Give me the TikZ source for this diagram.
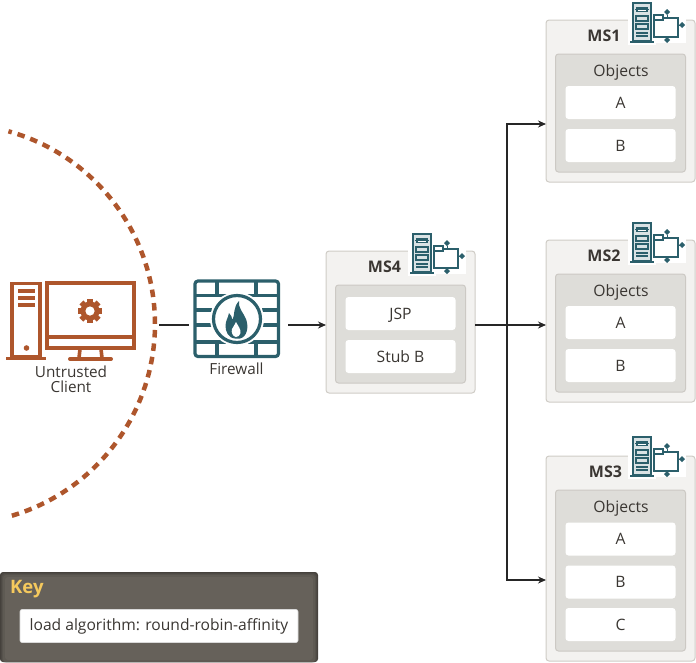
\documentclass[tikz,border=0pt]{standalone}
\usepackage{fontspec}
\setmainfont{Open Sans}
\usetikzlibrary{arrows.meta}
\definecolor{teal}{HTML}{2B5F6B}
\definecolor{rust}{HTML}{AE562C}
\definecolor{outerbox}{HTML}{F3F2F0}
\definecolor{outeredge}{HTML}{CFCCC6}
\definecolor{innerbox}{HTML}{DEDDD9}
\definecolor{inneredge}{HTML}{CCC9C4}
\definecolor{ink}{HTML}{3A3632}
\definecolor{keyA}{HTML}{45413C}
\definecolor{keyB}{HTML}{4D4944}
\definecolor{keyC}{HTML}{56524C}
\definecolor{keyD}{HTML}{5E5A53}
\definecolor{keyE}{HTML}{66615A}
\definecolor{keygold}{HTML}{F5C95D}
\tikzset{
  msbox/.style={draw=outeredge,fill=outerbox,line width=1pt,rounded corners=3pt,minimum width=149pt,inner sep=0pt,outer sep=0pt},
  grpbox/.style={draw=inneredge,fill=innerbox,line width=1pt,rounded corners=3pt,minimum width=130pt,inner sep=0pt,outer sep=0pt},
  itembox/.style={fill=white,rounded corners=3pt,minimum width=110pt,minimum height=33pt,inner sep=0pt,outer sep=0pt,text=ink,text depth=0pt,font=\fontsize{15.7}{17}\selectfont},
  mstitle/.style={inner sep=0pt,text=ink,font=\fontsize{16}{18}\selectfont\bfseries},
  grptitle/.style={inner sep=0pt,text=ink,font=\fontsize{15.7}{17}\selectfont},
  lbl/.style={inner sep=0pt,text=ink,align=center,font=\fontsize{15.3}{16}\selectfont},
  conn/.style={draw=black!85,line width=1.05pt},
  arr/.style={conn,-{Stealth[length=8pt,width=7pt]}},
  iconline/.style={draw=teal,line width=1.7pt},
  rustline/.style={draw=rust,line width=4pt},
  wall/.style={draw=teal,line width=3.2pt},
}
\newcommand{\msicon}[2]{%
  \begin{scope}[shift={(#1,#2)}]
    \fill[white] (-2,-1) rectangle (26,43);
    \fill[white] (22,5) rectangle (56,41);
    \fill[teal!18] (3,1) rectangle (21,39);
    \draw[iconline] (3,1) rectangle (21,39);
    \draw[iconline,line width=2.2pt] (0,40) -- (24,40);
    \fill[teal] (6,5) rectangle (18,10);
    \fill[white] (8,6.5) rectangle (16,8.5);
    \draw[iconline,line width=1pt] (5,7.5) -- (19,7.5);
    \draw[iconline,line width=1.3pt] (6,14) rectangle (18,19);
    \draw[iconline,line width=1.3pt] (6,22) rectangle (18,27);
    \draw[iconline,line width=1.1pt] (6,31) -- (18,31) (6,34) -- (18,34);
    \draw[iconline,fill=white] (24,16) rectangle (48,35);
    \draw[iconline,fill=white,line width=1.3pt] (24,13) rectangle (33,18);
    \fill[teal] (37,7) -- (40,10) -- (37,13) -- (34,10) -- cycle;
    \fill[teal] (52,20) -- (55,23) -- (52,26) -- (49,23) -- cycle;
    \fill[teal] (37,35) -- (40,38) -- (37,41) -- (34,38) -- cycle;
    \draw[teal,line width=1pt] (37,13) -- (37,16) (48,23) -- (50,23) (37,35) -- (37,36);
  \end{scope}}
\begin{document}
\begin{tikzpicture}[x=1pt,y=-1pt]
\useasboundingbox (0,0) rectangle (696,662);

% dashed boundary
\draw[draw=rust,line width=4.5pt,dash pattern=on 7.5pt off 6pt,dash phase=4pt]
  plot[domain=-74.5:74.5,samples=80] ({-45+200*cos(\x)},{324+200*sin(\x)});

% client computer
\draw[rustline,line width=3.6pt] (12,283.5) -- (40,283.5) -- (40,357) -- (12,357) -- cycle;
\draw[rustline,line width=3.6pt] (6,358.5) -- (46,358.5);
\foreach \yy in {291,298,305} \fill[rust] (18,\yy-2) rectangle (35,\yy+2);
\fill[rust] (26.5,348) circle (2.8);
\draw[rustline] (47,283) rectangle (133.5,347.5);
\draw[rustline,line width=4pt] (47,337) -- (133.5,337);
\draw[rust,line width=3.6pt] (80,349) -- (79,358) (101,349) -- (102,358);
\draw[rust,line width=4pt,line cap=round] (70,359) -- (111,359);
\foreach \a in {0,45,...,315} \fill[rust,rotate around={\a:(90,311)}] (87.2,298.8) rectangle (92.8,306);
\fill[rust] (90,311) circle (9.5);
\fill[white] (90,311) circle (4.6);
\node[lbl] (client) at (71,379.5) {Untrusted\\[-1.5pt]Client};

% firewall
\draw[wall,rounded corners=3pt] (195,281) rectangle (278.5,356.5);
\draw[wall] (195,295.5) -- (278.5,295.5) (195,342) -- (278.5,342);
\draw[wall] (217,281) -- (217,295.5) (256,281) -- (256,295.5) (217,342) -- (217,356.5) (256,342) -- (256,356.5);
\draw[wall] (195,310) -- (212,310) (262,310) -- (278.5,310) (195,325) -- (212,325) (262,325) -- (278.5,325);
\fill[white] (237,319) circle (27);
\draw[wall] (237,319) circle (23.5);
\fill[teal] (235,338.5) .. controls (228,338) and (225.5,331) .. (225.5,326)
  .. controls (225.5,321) and (228,318) .. (229,313)
  .. controls (231,315) and (232,317) .. (232.5,320)
  .. controls (235,315) and (233,307) .. (239,301)
  .. controls (238,308) and (243,312) .. (246,319)
  .. controls (249,327) and (247,337) .. (240,338.5) -- cycle;
\fill[white] (236,337) .. controls (232.5,336.5) and (231,332) .. (232,329)
  .. controls (233,326.5) and (235,325) .. (236,322)
  .. controls (238,326) and (241,329) .. (240.5,333)
  .. controls (240,335.5) and (238,337) .. (236,337) -- cycle;
\node[lbl] (fw) at (236.5,369) {Firewall};

% connector ends at the icons
\coordinate (cliout) at (159,325);
\coordinate (fwin) at (189,325);
\coordinate (fwout) at (288,325);
\coordinate (j) at (507,325);

% MS4
\node[msbox,minimum height=142pt] (ms4) at (400.5,322) {};
\msicon{410}{233}
\node[mstitle] (ms4t) at (384.5,267) {MS4};
\node[grpbox,minimum height=98pt] (ms4g) at (400.5,334) {};
\node[itembox] (jsp) at (400.5,313.5) {JSP};
\node[itembox] (stub) at (400.5,356.5) {Stub B};

% MS1
\node[msbox,minimum height=162pt] (ms1) at (620.5,101) {};
\msicon{630}{2}
\node[mstitle] (ms1t) at (604,36) {MS1};
\node[grpbox,minimum height=118pt] (ms1g) at (620.5,113) {};
\node[grptitle] (ms1o) at (621,72) {Objects};
\node[itembox] (a1) at (620.5,102.5) {A};
\node[itembox] (b1) at (620.5,145.5) {B};

% MS2
\node[msbox,minimum height=162pt] (ms2) at (620.5,321) {};
\msicon{630}{222}
\node[mstitle] (ms2t) at (604,256) {MS2};
\node[grpbox,minimum height=118pt] (ms2g) at (620.5,333) {};
\node[grptitle] (ms2o) at (621,292) {Objects};
\node[itembox] (a2) at (620.5,322.5) {A};
\node[itembox] (b2) at (620.5,365.5) {B};

% MS3
\node[msbox,minimum height=205pt] (ms3) at (620.5,558.5) {};
\msicon{630}{436}
\node[mstitle] (ms3t) at (605.5,472) {MS3};
\node[grpbox,minimum height=161pt] (ms3g) at (620.5,570.5) {};
\node[grptitle] (ms3o) at (621,508) {Objects};
\node[itembox] (a3) at (620.5,539) {A};
\node[itembox] (b3) at (620.5,582) {B};
\node[itembox] (c3) at (620.5,624.5) {C};

% connectors
\draw[conn] (cliout) -- (fwin);
\draw[arr] (fwout) -- (ms4.west |- fwout);
\draw[conn] (ms4.east |- j) -- (j);
\draw[arr] (j) -- (ms2.west |- j);
\coordinate (up) at (507,124);
\coordinate (down) at (507,580);
\draw[arr] (j) -- (up) -- (ms1.west |- up);
\draw[arr] (j) -- (down) -- (ms3.west |- down);

% key
\fill[rounded corners=3pt,fill=keyA] (0,572) rectangle (318,662);
\fill[rounded corners=3pt,fill=keyB] (1,573) rectangle (317,662);
\fill[rounded corners=3pt,fill=keyC] (2,574) rectangle (316,662);
\fill[rounded corners=3pt,fill=keyD] (3,575) rectangle (315,662);
\fill[rounded corners=3pt,fill=keyE] (5,577) rectangle (313,660);
\node[inner sep=0pt,anchor=west,text=keygold,font=\fontsize{18.5}{20}\selectfont\bfseries] (keyt) at (10,589.5) {Key};
\node[fill=white,draw=black!15,line width=.6pt,rounded corners=2pt,minimum width=278pt,minimum height=33pt,inner sep=0pt,text=ink,font=\fontsize{15.6}{17}\selectfont] (algo) at (159,626) {load algorithm: round-robin-affinity};
\end{tikzpicture}
\end{document}
